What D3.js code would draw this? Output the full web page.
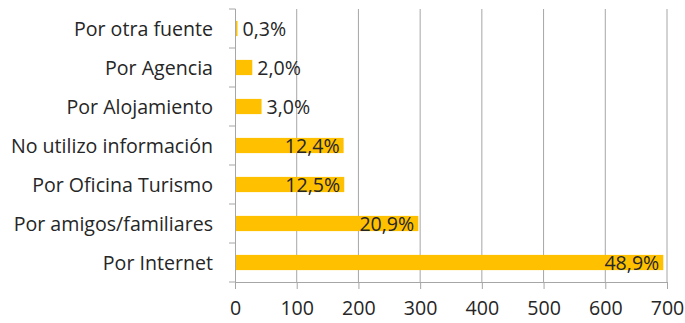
<!DOCTYPE html>
<html>
<head>
<meta charset="utf-8">
<script src="https://cdn.jsdelivr.net/npm/d3@7"></script>
<style>
  html, body { margin: 0; padding: 0; background: #fff; }
  svg { display: block; }
  text { font-family: "Open Sans", "Noto Sans", sans-serif; fill: #262626; }
</style>
</head>
<body>
<script>
// Survey responses: how visitors got their information (counts per source)
const categories = [
  "Por otra fuente",
  "Por Agencia",
  "Por Alojamiento",
  "No utilizo información",
  "Por Oficina Turismo",
  "Por amigos/familiares",
  "Por Internet"
];
const counts = [4, 28, 43, 176, 177, 297, 694];
const xTicks = [0, 100, 200, 300, 400, 500, 600, 700];

const total = d3.sum(counts);
const pctLabel = v => (v / total * 100).toFixed(1).replace(".", ",") + "%";

const W = 685, H = 323;
const margin = { top: 9, right: 18, bottom: 41, left: 235 };
const iw = W - margin.left - margin.right;
const ih = H - margin.top - margin.bottom;

const svg = d3.select("body").append("svg").attr("width", W).attr("height", H);
const g = svg.append("g").attr("transform", `translate(${margin.left},${margin.top})`);

const x = d3.scaleLinear().domain([0, 700]).range([0, iw]);
const y = d3.scaleBand().domain(categories).range([0, ih]).paddingInner(0.61).paddingOuter(0.305);

const gridColor = "#a6a6a6";
const FS = 19.6;

// vertical gridlines
g.selectAll("line.grid").data(xTicks.slice(1)).join("line")
  .attr("class", "grid")
  .attr("x1", d => x(d)).attr("x2", d => x(d))
  .attr("y1", 0).attr("y2", ih)
  .attr("stroke", gridColor).attr("stroke-width", 1);

// bars
g.selectAll("rect.bar").data(counts).join("rect")
  .attr("class", "bar")
  .attr("x", x(0))
  .attr("y", (d, i) => y(categories[i]))
  .attr("width", d => x(d) - x(0))
  .attr("height", y.bandwidth())
  .attr("fill", "#ffc000");

// x axis
const xAxis = g.append("g").attr("transform", `translate(0,${ih})`)
  .call(d3.axisBottom(x).tickValues(xTicks).tickSize(7).tickPadding(12).tickFormat(d3.format("d")));
xAxis.select(".domain").attr("stroke", gridColor);
xAxis.selectAll(".tick line").attr("stroke", gridColor);
xAxis.selectAll(".tick text").attr("font-size", FS).attr("font-family", null).attr("fill", "#262626");

// category axis with boundary ticks
const yAxisG = g.append("g");
yAxisG.append("line").attr("x1", 0.5).attr("x2", 0.5).attr("y1", 0).attr("y2", ih + 7)
  .attr("stroke", gridColor);
const bounds = d3.range(categories.length + 1).map(i => i * ih / categories.length);
yAxisG.selectAll("line.b").data(bounds).join("line").attr("class", "b")
  .attr("x1", -6).attr("x2", 0.5).attr("y1", d => d).attr("y2", d => d)
  .attr("stroke", gridColor);
yAxisG.selectAll("text").data(categories).join("text")
  .attr("x", -22)
  .attr("y", d => y(d) + y.bandwidth() / 2)
  .attr("dy", "0.37em")
  .attr("text-anchor", "end")
  .attr("font-size", FS)
  .text(d => d);

// value labels: inside end when the bar is long enough, otherwise just past the bar
const labels = g.selectAll("text.val").data(counts).join("text")
  .attr("class", "val")
  .attr("font-size", FS)
  .attr("y", (d, i) => y(categories[i]) + y.bandwidth() / 2)
  .attr("dy", "0.37em")
  .text(d => pctLabel(d));
labels.each(function(d) {
  const w = this.getComputedTextLength();
  const end = x(d);
  if (end - x(0) > w + 8) {
    d3.select(this).attr("x", end - 4).attr("text-anchor", "end");
  } else {
    d3.select(this).attr("x", end + 5).attr("text-anchor", "start");
  }
});
</script>
</body>
</html>
